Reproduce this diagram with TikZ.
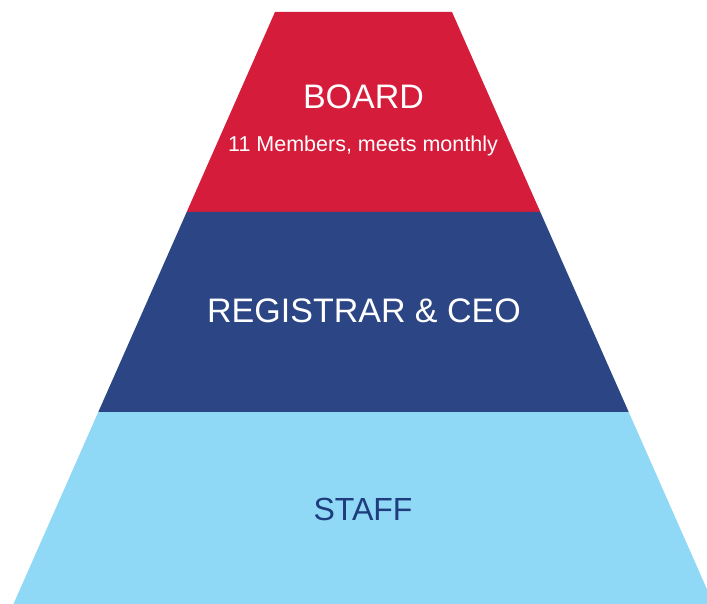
\documentclass[tikz,border=0pt]{standalone}
\usepackage{fontspec}
\setmainfont{Liberation Sans}
\definecolor{boardred}{HTML}{D51C3A}
\definecolor{ceoblue}{HTML}{2B4585}
\definecolor{staffblue}{HTML}{8FD8F6}
\definecolor{staffink}{HTML}{1F3C7C}
\tikzset{tier/.style={font=\fontsize{34}{38}\selectfont, inner sep=0pt, anchor=base}}

\begin{document}
\begin{tikzpicture}[x=1pt,y=-1pt,note/.style={font=\fontsize{21.5}{24}\selectfont, inner sep=0pt, anchor=base}]
        \useasboundingbox (0,0) rectangle (707,604);
        % the three tiers of the pyramid
        \fill[boardred] (275,12) -- (452,12) -- (540.3,212) -- (186.7,212) -- cycle;
        \fill[ceoblue] (186.7,212) -- (540.3,212) -- (628.7,412) -- (98.3,412) -- cycle;
        \fill[staffblue] (98.3,412) -- (628.7,412) -- (713.5,604) -- (13.5,604) -- cycle;
        % labels
        \node[tier,text=white] (board) at (363.5,109) {BOARD};
        \node[note,text=white] (members) at (363,151.5) {11 Members, meets monthly};
        \node[tier,text=white] (ceo) at (364,322) {REGISTRAR \& CEO};
        \node[tier,text=staffink,font=\fontsize{32}{36}\selectfont] (staff) at (363,520) {STAFF};
    \end{tikzpicture}
\end{document}
